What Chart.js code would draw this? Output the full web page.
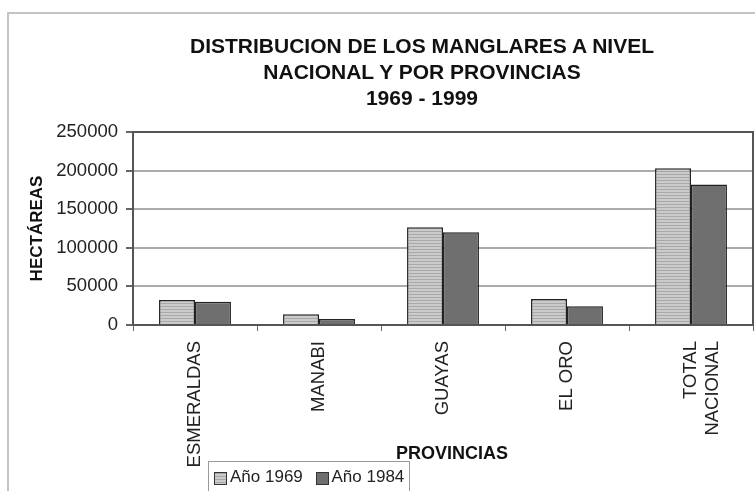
<!DOCTYPE html>
<html>
<head>
<meta charset="utf-8">
<script src="https://cdn.jsdelivr.net/npm/chart.js@4"></script>
<style>
  html, body { margin: 0; padding: 0; background: #fff; }
  body { width: 755px; height: 491px; position: relative; overflow: hidden;
         font-family: 'Liberation Sans', Arial, sans-serif; color: #111; }
  #frame { position: absolute; left: 7px; top: 12px; width: 800px; height: 520px;
           border-top: 2px solid #c4c4c4; border-left: 2px solid #c4c4c4; }
  #title { position: absolute; left: 122px; top: 33px; width: 600px; text-align: center;
           font-weight: bold; font-size: 21px; line-height: 26px; }
  #xtitle { position: absolute; left: 352px; top: 444px; width: 200px; text-align: center;
            font-weight: bold; font-size: 18px; line-height: 18px; }
  #legend { position: absolute; left: 208px; top: 461px; width: 202px; height: 40px;
            border: 1px solid #9a9a9a; box-sizing: border-box; font-size: 17px; line-height: 20px;
            padding: 5px 0 0 5px; color: #222; }
  #legend span { display: inline-block; vertical-align: top; }
  .sw { width: 11px; height: 11px; border: 1px solid #333; margin: 5px 3px 0 0; }
  canvas { position: absolute; left: 0; top: 0; }
</style>
</head>
<body>
<div id="frame"></div>
<canvas id="chart" width="755" height="491"></canvas>
<div id="title">DISTRIBUCION DE LOS MANGLARES A NIVEL<br>NACIONAL Y POR PROVINCIAS<br>1969 - 1999</div>
<div id="xtitle">PROVINCIAS</div>
<div id="legend">
  <span class="sw" id="sw1"></span><span>Año 1969</span>
  <span class="sw" id="sw2" style="margin-left:8px"></span><span>Año 1984</span>
</div>
<script>
  const provincias = ['ESMERALDAS', 'MANABI', 'GUAYAS', 'EL ORO', ['TOTAL', 'NACIONAL']];
  const anio1969 = [32400, 13900, 126500, 33700, 203000];
  const anio1984 = [30200, 7800, 120000, 24200, 182000];
  const yTicks = [0, 50000, 100000, 150000, 200000, 250000];

  // striped fill used by Excel for the 1969 series
  const tile = document.createElement('canvas');
  tile.width = 4; tile.height = 3;
  const tctx = tile.getContext('2d');
  tctx.fillStyle = '#cbcbcb';
  tctx.fillRect(0, 0, 4, 3);
  tctx.fillStyle = '#a8a8a8';
  tctx.fillRect(0, 0, 4, 1);
  const stripes = tctx.createPattern(tile, 'repeat');

  document.getElementById('sw1').style.background = 'repeating-linear-gradient(#a8a8a8 0 1px, #cbcbcb 1px 3px)';
  document.getElementById('sw2').style.background = '#6f6f6f';

  const plotFrame = {
    id: 'plotFrame',
    afterDraw(chart) {
      const { ctx, chartArea: a } = chart;
      ctx.save();
      ctx.strokeStyle = '#555';
      ctx.lineWidth = 2;
      ctx.strokeRect(a.left, a.top, a.right - a.left, a.bottom - a.top);
      ctx.restore();
    }
  };

  const font = { family: "'Liberation Sans', Arial, sans-serif" };

  new Chart(document.getElementById('chart'), {
    type: 'bar',
    data: {
      labels: provincias,
      datasets: [
        { label: 'Año 1969', data: anio1969, backgroundColor: stripes,
          borderColor: '#222', borderWidth: 1.5 },
        { label: 'Año 1984', data: anio1984, backgroundColor: '#6f6f6f',
          borderColor: '#222', borderWidth: 1.5 }
      ]
    },
    options: {
      responsive: false,
      animation: false,
      layout: { padding: { top: 132, right: 2, left: 0, bottom: 0 } },
      datasets: { bar: { categoryPercentage: 0.58, barPercentage: 1.0 } },
      plugins: { legend: { display: false }, title: { display: false }, tooltip: { enabled: false } },
      scales: {
        x: {
          afterFit(axis) { axis.height = 166; },
          grid: { drawOnChartArea: false, drawTicks: true, tickLength: 6, tickColor: '#666', lineWidth: 1 },
          border: { display: true, color: '#555', width: 2 },
          ticks: { autoSkip: false, minRotation: 90, maxRotation: 90, padding: 10,
                   color: '#222', font: { ...font, size: 18.5 } }
        },
        y: {
          min: 0, max: 250000,
          afterFit(axis) { axis.width = 133; },
          afterBuildTicks(axis) { axis.ticks = yTicks.map(v => ({ value: v })); },
          grid: { color: '#ababab', lineWidth: 2, drawTicks: true, tickLength: 7, tickColor: '#666' },
          border: { display: true, color: '#555', width: 2 },
          ticks: { padding: 8, color: '#222', font: { ...font, size: 18.5 },
                   callback: v => String(v) },
          title: { display: true, text: 'HECTÁREAS', color: '#111',
                   font: { ...font, size: 17, weight: 'bold' }, padding: { top: 27, bottom: 4 } }
        }
      }
    },
    plugins: [plotFrame]
  });
</script>
</body>
</html>
